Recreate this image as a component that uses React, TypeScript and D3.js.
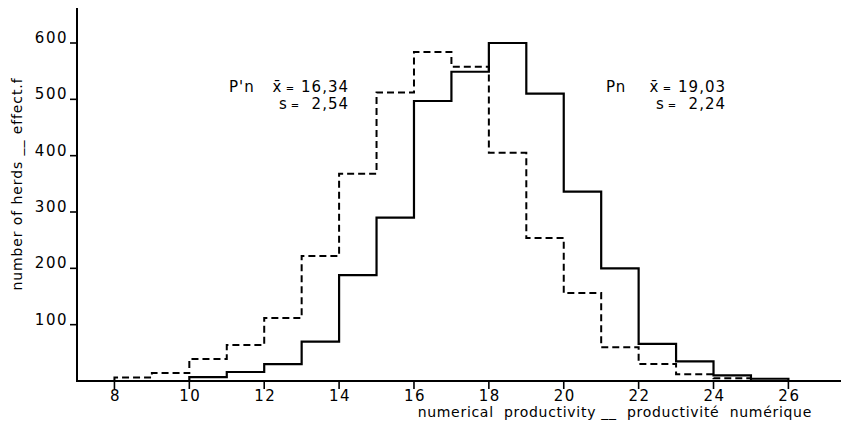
import React, { useEffect, useRef } from 'react';
import * as d3 from 'd3';

const width = 841;
const height = 440;

// bins are one unit wide, starting at the first value
const pnStart = 10;
const pnValues = [7, 16, 30, 70, 188, 290, 497, 549, 600, 510, 336, 200, 66, 35, 10, 4];
const ppnStart = 8;
const ppnValues = [6, 14, 39, 64, 112, 222, 368, 512, 584, 558, 405, 254, 156, 60, 30, 12, 5];

const xTicks = [8, 10, 12, 14, 16, 18, 20, 22, 24, 26];
const yTicks = [100, 200, 300, 400, 500, 600];

const font = '"DejaVu Sans", sans-serif';

const App = () => {
  const ref = useRef<SVGSVGElement | null>(null);

  useEffect(() => {
    const svg = d3.select(ref.current);
    svg.selectAll('*').remove();

    const x = d3.scaleLinear().domain([7, 26]).range([77, 788.4]);
    const y = d3.scaleLinear().domain([0, 600]).range([381, 43]);

    const steps = (start: number, vals: number[]) => {
      const pts: [number, number][] = [[start, 0]];
      vals.forEach((v, i) => pts.push([start + i, v]));
      pts.push([start + vals.length, 0]);
      return pts;
    };

    const line = d3.line<[number, number]>()
      .x(d => x(d[0]))
      .y(d => y(d[1]))
      .curve(d3.curveStepAfter);

    // axes
    svg.append('line')
      .attr('x1', 77).attr('x2', 77).attr('y1', 8).attr('y2', 381)
      .attr('stroke', '#000').attr('stroke-width', 2);
    svg.append('line')
      .attr('x1', 76).attr('x2', 841).attr('y1', 381).attr('y2', 381)
      .attr('stroke', '#000').attr('stroke-width', 2);

    const xg = svg.append('g');
    xTicks.forEach(t => {
      xg.append('line')
        .attr('x1', x(t)).attr('x2', x(t)).attr('y1', 381).attr('y2', 389)
        .attr('stroke', '#000').attr('stroke-width', 1.6);
      xg.append('text')
        .attr('x', x(t) + 1).attr('y', 401)
        .attr('text-anchor', 'middle')
        .attr('font-family', font).attr('font-size', 15)
        .attr('letter-spacing', 1.5)
        .text(t);
    });

    const yg = svg.append('g');
    yTicks.forEach(t => {
      yg.append('line')
        .attr('x1', 70).attr('x2', 77).attr('y1', y(t)).attr('y2', y(t))
        .attr('stroke', '#000').attr('stroke-width', 1.6);
      yg.append('text')
        .attr('x', 68).attr('y', y(t))
        .attr('text-anchor', 'end')
        .attr('font-family', font).attr('font-size', 15)
        .attr('letter-spacing', 1.5)
        .text(t);
    });

    // histograms
    svg.append('path')
      .attr('d', line(steps(ppnStart, ppnValues)))
      .attr('fill', 'none').attr('stroke', '#000').attr('stroke-width', 2)
      .attr('stroke-dasharray', '7,4');
    svg.append('path')
      .attr('d', line(steps(pnStart, pnValues)))
      .attr('fill', 'none').attr('stroke', '#000').attr('stroke-width', 2.2);

    // labels
    svg.append('text')
      .attr('transform', 'translate(22,184) rotate(-90)')
      .attr('text-anchor', 'middle')
      .attr('font-family', font).attr('font-size', 14)
      .attr('letter-spacing', 0.9)
      .attr('fill', '#000')
      .text('number of herds __ effect.f');
    svg.append('text')
      .attr('x', 812).attr('y', 417)
      .attr('text-anchor', 'end')
      .attr('font-family', font).attr('font-size', 14)
      .attr('letter-spacing', 0.7)
      .style('white-space', 'pre')
      .text('numerical  productivity __  productivité  numérique');

    const note = (lx: number, name: string, mean: string, sd: string) => {
      const g = svg.append('g')
        .attr('font-family', font).attr('font-size', 15);
      g.append('text').attr('x', lx).attr('y', 92)
        .attr('letter-spacing', 1).text(name);
      g.append('text').attr('x', lx + 120).attr('y', 92)
        .attr('text-anchor', 'end').attr('letter-spacing', 1).text(mean);
      g.append('text').attr('x', lx + 48).attr('y', 92)
        .attr('text-anchor', 'middle').text('x\u0304');
      g.append('text').attr('x', lx + 61).attr('y', 92)
        .attr('text-anchor', 'middle').attr('font-size', 10).text('=');
      g.append('text').attr('x', lx + 120).attr('y', 109)
        .attr('text-anchor', 'end').attr('letter-spacing', 1).text(sd);
      g.append('text').attr('x', lx + 54).attr('y', 109)
        .attr('text-anchor', 'middle').text('s');
      g.append('text').attr('x', lx + 66).attr('y', 109)
        .attr('text-anchor', 'middle').attr('font-size', 10).text('=');
    };
    note(229, "P'n", '16,34', '2,54');
    note(606, 'Pn', '19,03', '2,24');
  }, []);

  return <svg ref={ref} width={width} height={height}
    style={{ position: 'absolute', left: 0, top: 0, background: '#fff' }} />;
};

export default App;
